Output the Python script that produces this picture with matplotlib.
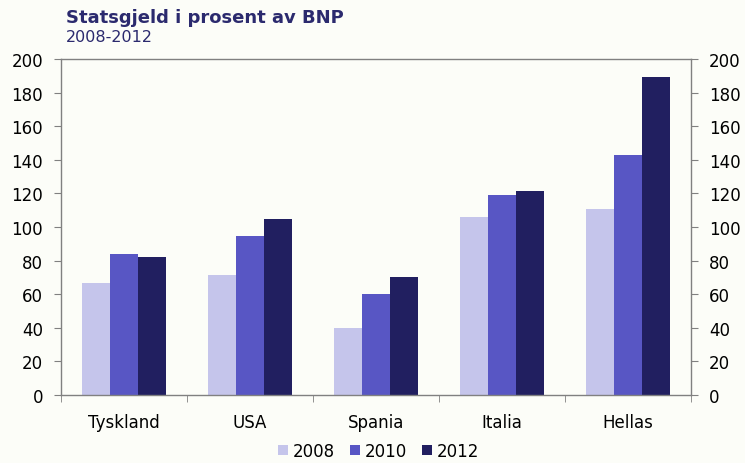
import matplotlib
matplotlib.use("Agg")
import matplotlib.pyplot as plt
import numpy as np

categories = ["Tyskland", "USA", "Spania", "Italia", "Hellas"]
years = ["2008", "2010", "2012"]
v2008 = [66.5, 71.5, 40, 106, 110.5]
v2010 = [84, 94.5, 60, 119, 143]
v2012 = [82, 105, 70, 121.5, 189]
colors = ["#C5C5EB", "#5856C4", "#211F60"]
yticks = [0, 20, 40, 60, 80, 100, 120, 140, 160, 180, 200]

bg = "#FCFDF8"
fig = plt.figure(figsize=(7.45, 4.64), dpi=100, facecolor=bg)
ax = fig.add_axes([61/745, 1-396/464, 630/745, 336/464], facecolor=bg)

x = np.arange(len(categories))
w = 0.222
for i, (vals, c, lab) in enumerate(zip([v2008, v2010, v2012], colors, years)):
    ax.bar(x + (i-1)*w, vals, width=w, color=c, label=lab, linewidth=0)

ax.set_xlim(-0.5, len(categories)-0.5)
ax.set_ylim(0, 200)
ax.set_yticks(yticks)
ax.set_yticklabels([str(t) for t in yticks])
ax.set_xticks(x)
ax.set_xticklabels(categories)
ax.tick_params(axis='x', length=0, labelsize=12, pad=13)
ax.set_xticks(np.arange(-0.5, len(categories)), minor=True)
ax.tick_params(axis='x', which='minor', length=5, color="#808080", direction='out')
ax.tick_params(axis='y', length=5, color="#808080", labelsize=12, direction='out', pad=8,
               left=True, right=True, labelleft=True, labelright=True)
for s in ax.spines.values():
    s.set_color("#808080")
    s.set_linewidth(1.0)

fig.text(66/745, 1-18/464, "Statsgjeld i prosent av BNP", fontsize=13, fontweight='bold',
         color="#2B2A6E", va='center', ha='left')
fig.text(66/745, 1-38/464, "2008-2012", fontsize=11.5, color="#2B2A6E", va='center', ha='left')

leg = fig.legend(loc='center', bbox_to_anchor=(378.5/745, 1-452/464), ncol=3, frameon=False,
                 fontsize=12, handlelength=0.6, handleheight=0.6, handletextpad=0.3,
                 columnspacing=0.9)

fig.savefig("out.png", dpi=100, facecolor=bg)
